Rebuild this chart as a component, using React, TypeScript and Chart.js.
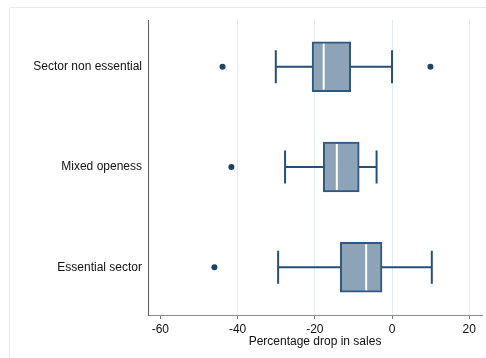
import React, { useEffect, useRef } from "react";
import { Chart, registerables } from "chart.js";

Chart.register(...registerables);

const categories = ["Sector non essential", "Mixed openess", "Essential sector"];
const q1 = [-20.7, -17.8, -13.4];
const q3 = [-10.7, -8.5, -2.6];
const medians = [-17.7, -14.3, -6.7];
const whiskerLow = [-30.1, -27.7, -29.5];
const whiskerHigh = [0, -4.0, 10.3];
const outlierValues = [-43.9, 9.95, -41.6, -46.0];
const outlierGroups = [0, 0, 1, 2];
const xTicks = [-60, -40, -20, 0, 20];

const BOX_FILL = "#8da3b8";
const BOX_LINE = "#2f5880";
const WHISKER = "#264f79";
const POINT = "#1c426a";

const boxPlugin = {
  id: "boxParts",
  beforeDraw(chart: any) {
    const ctx = chart.ctx;
    ctx.save();
    ctx.strokeStyle = "#e6eeee";
    ctx.lineWidth = 1;
    ctx.beginPath();
    ctx.moveTo(9.5, 358);
    ctx.lineTo(9.5, 7.5);
    ctx.lineTo(486, 7.5);
    ctx.stroke();
    ctx.restore();
  },
  beforeDatasetsDraw(chart: any) {
    const ctx = chart.ctx;
    const xs = chart.scales.x;
    const ys = chart.scales.y;
    const capHalf = 16.5;
    ctx.save();
    ctx.strokeStyle = WHISKER;
    ctx.lineWidth = 2;
    categories.forEach((_, i) => {
      const y = ys.getPixelForValue(i);
      const xl = xs.getPixelForValue(whiskerLow[i]);
      const xh = xs.getPixelForValue(whiskerHigh[i]);
      ctx.beginPath();
      ctx.moveTo(xl, y);
      ctx.lineTo(xh, y);
      ctx.moveTo(xl, y - capHalf);
      ctx.lineTo(xl, y + capHalf);
      ctx.moveTo(xh, y - capHalf);
      ctx.lineTo(xh, y + capHalf);
      ctx.stroke();
    });
    ctx.restore();
  },
  afterDatasetsDraw(chart: any) {
    const ctx = chart.ctx;
    const xs = chart.scales.x;
    const ys = chart.scales.y;
    const half = 23;
    ctx.save();
    ctx.strokeStyle = "#ffffff";
    ctx.lineWidth = 2;
    categories.forEach((_, i) => {
      const y = ys.getPixelForValue(i);
      const xm = xs.getPixelForValue(medians[i]);
      ctx.beginPath();
      ctx.moveTo(xm, y - half);
      ctx.lineTo(xm, y + half);
      ctx.stroke();
    });
    ctx.restore();
  },
};

export default function App() {
  const ref = useRef<HTMLCanvasElement | null>(null);
  useEffect(() => {
    if (!ref.current) return;
    const font = { family: "'Liberation Sans', Arial, sans-serif", size: 12 };
    const chart = new Chart(ref.current, {
      type: "bar",
      data: {
        datasets: [
          {
            type: "bar",
            indexAxis: "y",
            data: categories.map((_, i) => ({ x: [q1[i], q3[i]], y: i })) as any,
            backgroundColor: BOX_FILL,
            borderColor: BOX_LINE,
            borderWidth: 2,
            borderSkipped: false,
            barThickness: 50,
          } as any,
          {
            type: "scatter",
            data: outlierValues.map((v, i) => ({ x: v, y: outlierGroups[i] })),
            backgroundColor: POINT,
            borderColor: POINT,
            pointRadius: 3,
            borderWidth: 0,
          } as any,
        ],
      },
      options: {
        indexAxis: "y",
        responsive: false,
        animation: false,
        devicePixelRatio: 1,
        layout: { padding: { left: 0, top: 20, right: 2, bottom: 0 } },
        plugins: { legend: { display: false }, tooltip: { enabled: false } },
        scales: {
          x: {
            type: "linear",
            position: "bottom",
            offset: false,
            beginAtZero: false,
            min: -63.2,
            max: 23.3,
            afterBuildTicks: (s: any) => {
              s.ticks = xTicks.map((v) => ({ value: v }));
            },
            afterFit: (s: any) => {
              s.height = 43;
            },
            grid: {
              offset: false,
              color: (c: any) => (c.tick && c.tick.value === -60 ? "rgba(0,0,0,0)" : "#e2ebef"),
              tickColor: "#7a7a7a",
              tickLength: 4,
              lineWidth: 1,
            },
            border: { color: "#8c8c8c", width: 1 },
            ticks: { font, color: "#111", padding: 3, maxRotation: 0, autoSkip: false, callback: (v: any) => String(v) },
            title: {
              display: true,
              text: "Percentage drop in sales",
              font,
              color: "#111",
              padding: { top: 0, bottom: 9 },
            },
          },
          y: {
            type: "linear",
            position: "left",
            offset: false,
            beginAtZero: false,
            reverse: true,
            min: -0.466,
            max: 2.476,
            afterBuildTicks: (s: any) => {
              s.ticks = categories.map((_, i) => ({ value: i }));
            },
            afterFit: (s: any) => {
              s.width = 148;
            },
            grid: { display: false, drawTicks: false, offset: false },
            border: { color: "#5a5a5a", width: 1 },
            ticks: {
              font,
              color: "#111",
              padding: 6,
              autoSkip: false,
              callback: (v: any) => categories[v as number] ?? "",
            },
          },
        },
      },
      plugins: [boxPlugin],
    } as any);
    return () => chart.destroy();
  }, []);
  return (
    <canvas
      ref={ref}
      width={486}
      height={358}
      style={{ position: "fixed", left: 0, top: 0, width: 486, height: 358, background: "#fff" }}
    />
  );
}
